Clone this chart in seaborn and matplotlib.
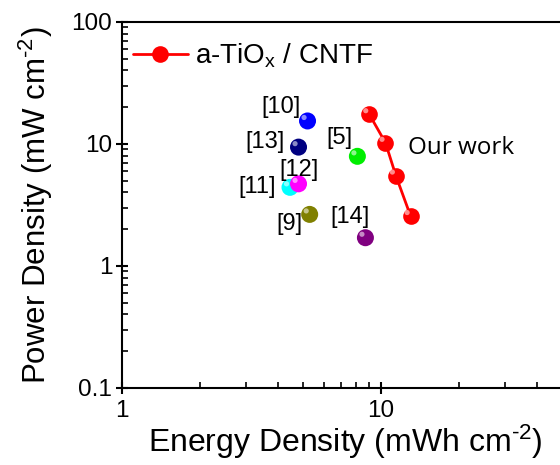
import numpy as np
import pandas as pd
import seaborn as sns
import matplotlib.pyplot as plt
import matplotlib.transforms as mtransforms

# our work (a-TiOx / CNTF)
our_energy = [9.0, 10.4, 11.4, 13.0]
our_power = [17.5, 10.2, 5.5, 2.56]

# literature points
ref_labels = ['[10]', '[13]', '[5]', '[11]', '[12]', '[9]', '[14]']
ref_energy = [5.2, 4.8, 8.1, 4.45, 4.8, 5.3, 8.7]
ref_power = [15.4, 9.4, 7.9, 4.4, 4.7, 2.64, 1.7]
ref_colors = ['#0000ff', '#000080', '#00ee00', '#00ffff', '#ff00ff', '#808000', '#800080']

# where the [n] labels sit (data coords)
label_x = [4.11, 3.56, 6.88, 3.32, 4.82, 4.41, 7.59]
label_y = [20.1, 10.4, 11.2, 4.44, 6.12, 2.21, 2.52]

sns.set_style("ticks")
plt.rcParams['font.family'] = ['Liberation Sans', 'DejaVu Sans']
plt.rcParams['mathtext.fontset'] = 'custom'
plt.rcParams['mathtext.rm'] = 'Liberation Sans'
plt.rcParams['mathtext.it'] = 'Liberation Sans'
plt.rcParams['text.color'] = 'black'
plt.rcParams['axes.labelcolor'] = 'black'
plt.rcParams['xtick.color'] = 'black'
plt.rcParams['ytick.color'] = 'black'

fig = plt.figure(figsize=(5.6, 4.65), dpi=100)
# the axes run past the right edge, as in the cropped original
ax = fig.add_axes([0.218, 0.166, 0.925, 0.787])

df_ref = pd.DataFrame({'E': ref_energy, 'P': ref_power, 'ref': ref_labels})
sns.scatterplot(data=df_ref, x='E', y='P', hue='ref', palette=ref_colors,
                s=150, edgecolor='none', legend=False, ax=ax, zorder=3)

df_our = pd.DataFrame({'E': our_energy, 'P': our_power})
sns.lineplot(data=df_our, x='E', y='P', color='red', lw=2, marker='o',
             markersize=12, markeredgewidth=0, sort=False, ax=ax,
             label=r'a-TiO$_\mathregular{x}$ / CNTF', zorder=4)

# small highlights to give the balls a shiny look
shift = mtransforms.ScaledTranslation(-2.5 / 72, 2.5 / 72, fig.dpi_scale_trans)
ax.scatter(ref_energy + our_energy, ref_power + our_power, s=14, c='white',
           alpha=0.55, edgecolors='none', transform=ax.transData + shift, zorder=5)

for lab, lx, ly in zip(ref_labels, label_x, label_y):
    ax.text(lx, ly, lab, fontsize=17, ha='center', va='center')
ax.text(12.7, 9.27, 'Our work', fontsize=17.5, ha='left', va='center',
        family=['Open Sans', 'DejaVu Sans'])

ax.set_xscale('log')
ax.set_yscale('log')
ax.set_xlim(1, 100)
ax.set_ylim(0.1, 100)
ax.set_xticks([1, 10])
ax.set_xticklabels(['1', '10'])
ax.set_yticks([0.1, 1, 10, 100])
ax.set_yticklabels(['0.1', '1', '10', '100'])

ax.set_xlabel('Energy Density (mWh cm$^{\\text{-2}}$)', fontsize=23, labelpad=0, x=0.4305)
ax.set_ylabel('Power Density (mW cm$^{\\text{-2}}$)', fontsize=22.5, labelpad=12)

for sp in ax.spines.values():
    sp.set_linewidth(1.5)
    sp.set_color('black')
ax.tick_params(which='major', direction='inout', length=8, width=1.5,
               labelsize=17.5, pad=3, top=False, right=False)
ax.tick_params(axis='x', which='major', pad=5)
ax.tick_params(which='minor', direction='in', length=4, width=1.2,
               top=False, right=False)

leg = ax.legend(loc='upper left', bbox_to_anchor=(-0.012, 0.992), frameon=False,
                fontsize=20, handlelength=2.0, borderaxespad=0.2, handletextpad=0.25)

fig.savefig('out.png', dpi=100)
